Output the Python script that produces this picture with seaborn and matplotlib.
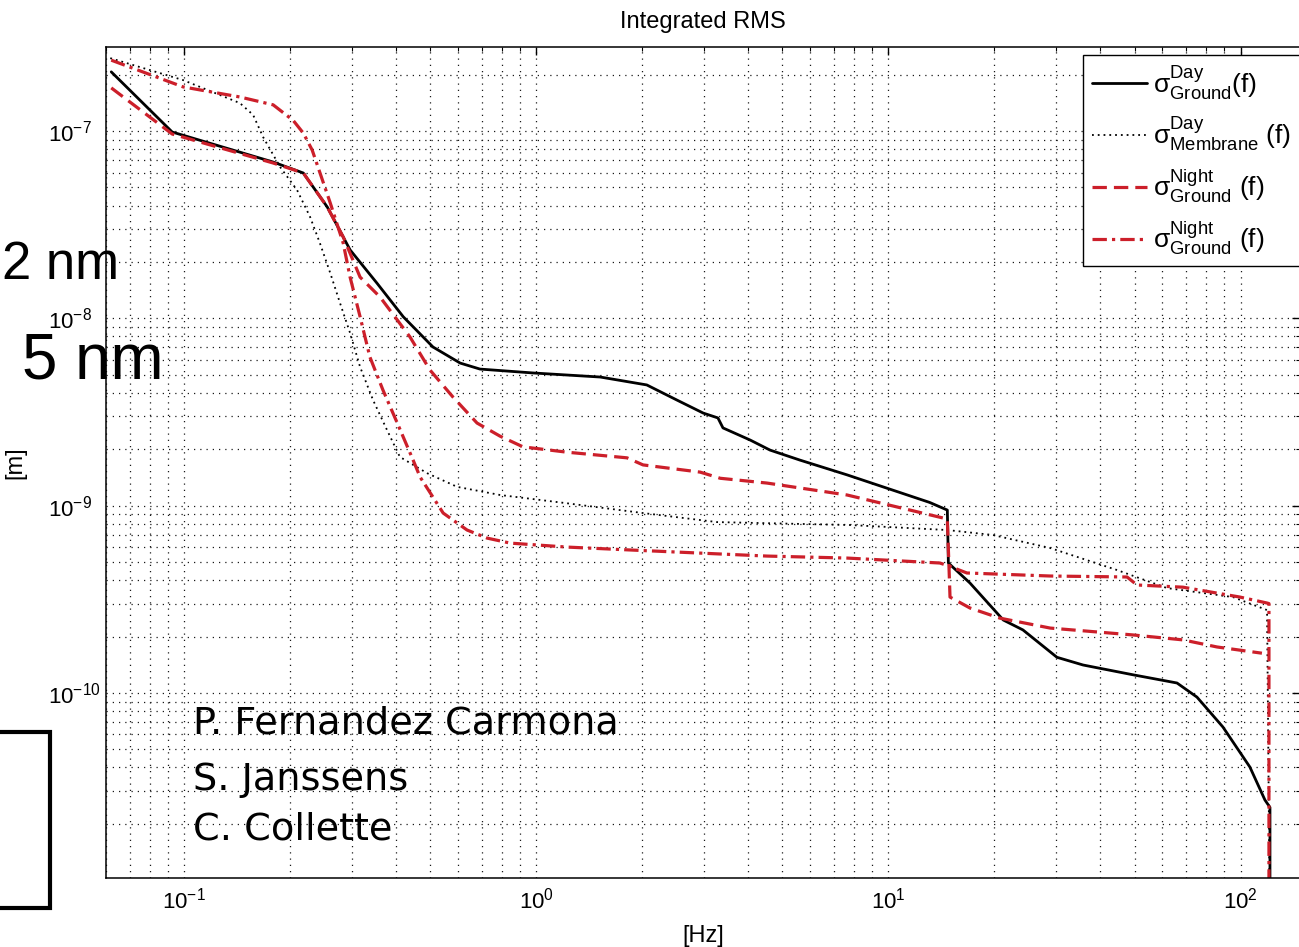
import matplotlib
matplotlib.use("Agg")
import matplotlib.pyplot as plt
import pandas as pd
import seaborn as sns
from matplotlib.patches import Rectangle
from matplotlib.ticker import LogLocator, NullFormatter

# Integrated RMS displacement versus frequency
freq_day_ground = [0.0621, 0.0925, 0.179, 0.218, 0.255, 0.296, 0.353, 0.419, 0.509, 0.608,
                   0.692, 0.979, 1.52, 2.06, 2.51, 2.98, 3.28, 3.39, 4.05, 4.61, 5.61, 7.63,
                   13.1, 14.7, 14.8, 17.05, 21.2, 24.1, 30.1, 35.7, 49.5, 66.0, 75.2, 89.1,
                   106.3, 117.3, 121.2, 121.2]
rms_day_ground = [2.07e-7, 9.88e-8, 6.83e-8, 5.97e-8, 3.93e-8, 2.32e-8, 1.54e-8, 1.02e-8,
                  7.03e-9, 5.77e-9, 5.36e-9, 5.11e-9, 4.86e-9, 4.41e-9, 3.66e-9, 3.12e-9,
                  2.94e-9, 2.60e-9, 2.24e-9, 1.98e-9, 1.75e-9, 1.46e-9, 1.04e-9, 9.47e-10,
                  4.94e-10, 3.86e-10, 2.45e-10, 2.17e-10, 1.55e-10, 1.41e-10, 1.25e-10,
                  1.13e-10, 9.5e-11, 6.58e-11, 4.02e-11, 2.68e-11, 2.45e-11, 5e-12]

freq_day_membrane = [0.0617, 0.0994, 0.144, 0.157, 0.1676, 0.1874, 0.2093, 0.228, 0.243,
                     0.26, 0.277, 0.296, 0.316, 0.344, 0.377, 0.41, 0.49, 0.596, 0.789, 1.22,
                     2.01, 3.26, 7.78, 14.7, 19.8, 28.8, 44.6, 61.8, 95.1, 118.9, 121.2]
rms_day_membrane = [2.45e-7, 1.87e-7, 1.41e-7, 1.22e-7, 9.29e-8, 6.42e-8, 4.84e-8, 3.47e-8,
                    2.52e-8, 1.745e-8, 1.21e-8, 8.35e-9, 5.5e-9, 3.66e-9, 2.53e-9, 1.82e-9,
                    1.49e-9, 1.26e-9, 1.14e-9, 1.03e-9, 9.13e-10, 8.17e-10, 7.88e-10,
                    7.41e-10, 6.97e-10, 5.94e-10, 4.53e-10, 3.63e-10, 3.25e-10, 2.77e-10, 5e-12]

freq_night_ground = [0.0621, 0.0925, 0.179, 0.218, 0.255, 0.283, 0.316, 0.36, 0.438, 0.499,
                     0.58, 0.679, 0.789, 0.917, 1.22, 1.81, 2.01, 2.92, 3.33, 4.52, 7.63,
                     14.3, 14.7, 14.96, 17.05, 20.7, 28.8, 49.5, 68.6, 85.7, 115.0]
rms_night_ground = [1.70e-7, 9.64e-8, 6.75e-8, 5.97e-8, 3.93e-8, 2.72e-8, 1.66e-8, 1.30e-8,
                    7.95e-9, 5.30e-9, 3.80e-9, 2.76e-9, 2.35e-9, 2.06e-9, 1.93e-9, 1.80e-9,
                    1.65e-9, 1.51e-9, 1.40e-9, 1.32e-9, 1.14e-9, 8.59e-10, 8.5e-10, 3.25e-10,
                    2.84e-10, 2.51e-10, 2.22e-10, 2.04e-10, 1.92e-10, 1.76e-10, 1.63e-10]

freq_night_ground2 = [0.0621, 0.0994, 0.144, 0.179, 0.204, 0.218, 0.231, 0.26, 0.283, 0.296,
                      0.316, 0.337, 0.367, 0.403, 0.447, 0.468, 0.544, 0.636, 0.725, 0.843,
                      1.22, 1.88, 2.92, 4.52, 7.63, 14.0, 14.9, 16.7, 28.8, 47.6, 50.8, 68.6,
                      99.6, 118.9, 120.4, 120.4]
rms_night_ground2 = [2.39e-7, 1.72e-7, 1.52e-7, 1.38e-7, 1.14e-7, 9.75e-8, 7.92e-8, 4.13e-8,
                     2.52e-8, 1.66e-8, 1.02e-8, 6.21e-9, 4.14e-9, 2.76e-9, 1.75e-9, 1.42e-9,
                     9.13e-10, 7.41e-10, 6.71e-10, 6.31e-10, 6.01e-10, 5.79e-10, 5.58e-10,
                     5.38e-10, 5.25e-10, 4.94e-10, 4.75e-10, 4.37e-10, 4.21e-10, 4.16e-10,
                     3.77e-10, 3.67e-10, 3.25e-10, 3.02e-10, 3.0e-10, 5e-12]

legend_labels = [r"$\sigma^{Day}_{Ground}$(f)",
                 r"$\sigma^{Day}_{Membrane}$ (f)",
                 r"$\sigma^{Night}_{Ground}$ (f)",
                 r"$\sigma^{Night}_{Ground}$ (f)"]
y_ticks = [1e-10, 1e-9, 1e-8, 1e-7]
x_ticks = [1e-1, 1e0, 1e1, 1e2]

sns.set_theme(style="white")
plt.rcParams["font.family"] = ["Liberation Sans", "DejaVu Sans"]
plt.rcParams["mathtext.default"] = "regular"
plt.rcParams["axes.unicode_minus"] = False
plt.rcParams["text.color"] = "black"
plt.rcParams["axes.labelcolor"] = "black"

W, H = 1299, 947
fig = plt.figure(figsize=(W / 100, H / 100), dpi=100)
fig.patch.set_facecolor("white")
ax = fig.add_axes([106 / W, 69 / H, 1194 / W, 831 / H])
ax.set_facecolor("white")

RED = "#cc1f2a"
series = [
    (freq_day_ground, rms_day_ground, dict(color="black", linewidth=2.0, linestyle="-")),
    (freq_day_membrane, rms_day_membrane, dict(color="black", linewidth=1.3, linestyle=(0, (1, 2.2)))),
    (freq_night_ground, rms_night_ground, dict(color=RED, linewidth=2.3, linestyle=(0, (4.5, 2.2)))),
    (freq_night_ground2, rms_night_ground2, dict(color=RED, linewidth=2.3, linestyle=(0, (4.5, 1.6, 1.0, 1.6)))),
]

for (f, r, style), lab in zip(series, legend_labels):
    df = pd.DataFrame({"f": f, "rms": r})
    sns.lineplot(data=df, x="f", y="rms", ax=ax, estimator=None, sort=False,
                 label=lab, **style)

ax.set_xscale("log")
ax.set_yscale("log")
ax.set_xlim(0.06, 147.5)
ax.set_ylim(1.028e-11, 2.81e-7)

ax.xaxis.set_major_locator(LogLocator(base=10))
ax.yaxis.set_major_locator(LogLocator(base=10))
ax.xaxis.set_minor_locator(LogLocator(base=10, subs=range(2, 10)))
ax.yaxis.set_minor_locator(LogLocator(base=10, subs=range(2, 10)))
ax.xaxis.set_minor_formatter(NullFormatter())
ax.yaxis.set_minor_formatter(NullFormatter())
ax.set_xticks(x_ticks)
ax.set_yticks(y_ticks)

ax.grid(True, which="both", color="#1a1a1a", linewidth=0.9, linestyle=(0, (1, 4)))
ax.tick_params(which="both", direction="in", top=True, right=True, colors="black")
ax.tick_params(which="major", length=6, width=1.0, labelsize=16)
ax.tick_params(which="minor", length=3, width=0.8)
ax.tick_params(axis="x", which="major", pad=7)
# y labels: the "10" bases share a common left edge, exponents overhang
ax.tick_params(axis="y", which="major", pad=42)
for lbl in ax.get_yticklabels():
    lbl.set_horizontalalignment("left")
for sp in ax.spines.values():
    sp.set_color("black")
    sp.set_linewidth(1.1)

ax.set_title("Integrated RMS", fontsize=17, pad=14, color="black")
ax.set_xlabel("[Hz]", fontsize=17, labelpad=8)
ax.set_ylabel("[m]", fontsize=17)
ax.yaxis.set_label_coords(-0.0665, 0.5)

leg = ax.legend(loc="upper right", bbox_to_anchor=(1.0, 0.9904), borderaxespad=0,
                fontsize=19, frameon=True, fancybox=False, framealpha=1,
                edgecolor="black", handlelength=2.1, handletextpad=0.2,
                labelspacing=0.54, borderpad=0.35)
leg.get_frame().set_linewidth(1.0)

# Slide annotations
def px_text(x, y, s, **kw):
    fig.text(x / W, 1 - y / H, s, va="baseline", ha="left", **kw)

px_text(2, 279, "2 nm", fontsize=38, color="black")
px_text(22, 378, "5 nm", fontsize=46, color="black")
for y, name in [(733, "P. Fernandez Carmona"), (790, "S. Janssens"), (839, "C. Collette")]:
    px_text(193, y, name, fontsize=27.5, color="black", family="DejaVu Sans")

fig.patches.append(Rectangle((-20 / W, 1 - 908 / H), 70 / W, 176 / H,
                             transform=fig.transFigure, fill=False,
                             edgecolor="black", linewidth=3))

fig.savefig("out.png", dpi=100)
